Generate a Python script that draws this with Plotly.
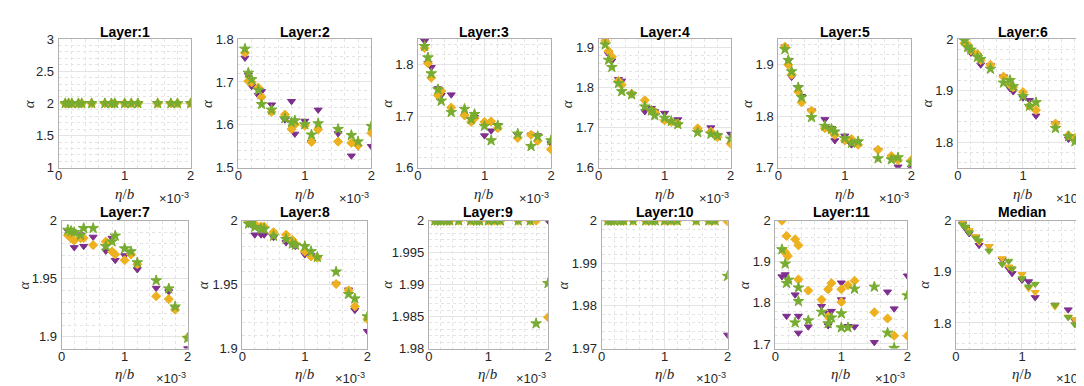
import plotly.graph_objects as go

# ---------------- data ----------------
ETA = [0.10e-3, 0.15e-3, 0.20e-3, 0.30e-3, 0.35e-3, 0.50e-3, 0.70e-3, 0.80e-3,
       0.85e-3, 1.00e-3, 1.10e-3, 1.20e-3, 1.50e-3, 1.70e-3, 1.80e-3, 2.00e-3]

TITLES = ["Layer:1", "Layer:2", "Layer:3", "Layer:4", "Layer:5", "Layer:6",
          "Layer:7", "Layer:8", "Layer:9", "Layer:10", "Layer:11", "Median"]

X_TICKS = [0, 1e-3, 2e-3]
X_TICK_TEXT = ["0", "1", "2"]

L1_P = [2.0, 2.0, 2.0, 2.0, 2.0, 2.0, 2.0, 2.0, 2.0, 2.0, 2.0, 2.0, 2.0, 2.0, 2.0, 2.0]
L1_O = [2.0, 2.0, 2.0, 2.0, 2.0, 2.0, 2.0, 2.0, 2.0, 2.0, 2.0, 2.0, 2.0, 2.0, 2.0, 2.0]
L1_G = [2.0, 2.0, 2.0, 2.0, 2.0, 2.0, 2.0, 2.0, 2.0, 2.0, 2.0, 2.0, 2.0, 2.0, 2.0, 2.0]

L2_P = [1.756, 1.716, 1.690, 1.669, 1.678, 1.647, 1.612, 1.655, 1.579, 1.609, 1.560, 1.635, 1.580, 1.528, 1.549, 1.550]
L2_O = [1.768, 1.702, 1.699, 1.687, 1.665, 1.630, 1.624, 1.590, 1.601, 1.598, 1.560, 1.589, 1.561, 1.558, 1.552, 1.581]
L2_G = [1.777, 1.721, 1.706, 1.681, 1.648, 1.635, 1.615, 1.606, 1.610, 1.601, 1.577, 1.603, 1.590, 1.576, 1.561, 1.597]

L3_P = [1.846, 1.803, 1.795, 1.754, 1.741, 1.742, 1.700, 1.694, 1.698, 1.6625, 1.672, 1.6825, 1.664, 1.664, 1.6625, 1.647]
L3_O = [1.8325, 1.803, 1.775, 1.741, 1.749, 1.717, 1.702, 1.689, 1.696, 1.689, 1.690, 1.677, 1.658, 1.664, 1.652, 1.636]
L3_G = [1.836, 1.814, 1.783, 1.752, 1.730, 1.708, 1.714, 1.694, 1.704, 1.681, 1.653, 1.682, 1.666, 1.642, 1.661, 1.653]

L4_P = [1.918, 1.882, 1.866, 1.820, 1.816, 1.784, 1.740, 1.748, 1.740, 1.736, 1.716, 1.720, 1.694, 1.700, 1.680, 1.684]
L4_O = [1.915, 1.890, 1.876, 1.816, 1.806, 1.784, 1.768, 1.742, 1.738, 1.718, 1.714, 1.710, 1.698, 1.690, 1.676, 1.660]
L4_G = [1.906, 1.868, 1.850, 1.810, 1.790, 1.782, 1.752, 1.742, 1.730, 1.724, 1.716, 1.708, 1.688, 1.684, 1.680, 1.672]

L5_P = [1.935, 1.908, 1.876, 1.856, 1.839, 1.811, 1.794, 1.777, 1.753, 1.762, 1.745, 1.750, 1.734, 1.721, 1.702, 1.700]
L5_O = [1.935, 1.900, 1.881, 1.848, 1.827, 1.811, 1.777, 1.772, 1.764, 1.753, 1.756, 1.745, 1.735, 1.723, 1.715, 1.715]
L5_G = [1.930, 1.909, 1.887, 1.856, 1.837, 1.798, 1.781, 1.775, 1.770, 1.757, 1.748, 1.751, 1.718, 1.716, 1.720, 1.710]

L6_P = [2.000, 1.982, 1.973, 1.968, 1.950, 1.949, 1.927, 1.904, 1.898, 1.886, 1.881, 1.851, 1.836, 1.806, 1.808, 1.780]
L6_O = [1.992, 1.989, 1.978, 1.971, 1.959, 1.950, 1.927, 1.911, 1.906, 1.897, 1.870, 1.862, 1.836, 1.813, 1.808, 1.785]
L6_G = [1.997, 1.984, 1.979, 1.965, 1.961, 1.942, 1.915, 1.920, 1.908, 1.889, 1.870, 1.877, 1.827, 1.811, 1.801, 1.782]

L7_P = [1.991, 1.989, 1.977, 1.988, 1.978, 1.986, 1.974, 1.985, 1.966, 1.970, 1.970, 1.958, 1.942, 1.939, 1.925, 1.890]
L7_O = [1.9875, 1.985, 1.983, 1.985, 1.985, 1.979, 1.982, 1.9735, 1.971, 1.966, 1.971, 1.9625, 1.935, 1.9325, 1.9235, 1.8995]
L7_G = [1.992, 1.991, 1.990, 1.9875, 1.9935, 1.9935, 1.978, 1.982, 1.987, 1.976, 1.9735, 1.964, 1.9485, 1.9415, 1.926, 1.899]

L8_P = [1.9975, 1.999, 1.989, 1.989, 1.989, 1.987, 1.983, 1.9815, 1.980, 1.9735, 1.973, 1.971, 1.9505, 1.946, 1.930, 1.9135]
L8_O = [2.000, 2.000, 1.9975, 1.9955, 1.9955, 1.991, 1.989, 1.985, 1.982, 1.976, 1.972, 1.971, 1.9505, 1.9455, 1.933, 1.923]
L8_G = [1.9975, 1.999, 1.995, 1.9935, 1.9935, 1.988, 1.9855, 1.982, 1.981, 1.980, 1.976, 1.9715, 1.960, 1.9425, 1.939, 1.925]

L9_P = [2.0, 2.0, 2.0, 2.0, 2.0, 2.0, 2.0, 2.0, 2.0, 2.0, 2.0, 2.0, 2.0, 2.0, 2.0, 2.0]
L9_O = [2.0, 2.0, 2.0, 2.0, 2.0, 2.0, 2.0, 2.0, 2.0, 2.0, 2.0, 2.0, 2.0, 2.0, 2.0, 1.9849]
L9_G = [2.0, 2.0, 2.0, 2.0, 2.0, 2.0, 2.0, 2.0, 2.0, 2.0, 2.0, 2.0, 2.0, 2.0, 1.9839, 1.9902]

L10_P = [2.0, 2.0, 2.0, 2.0, 2.0, 2.0, 2.0, 2.0, 2.0, 2.0, 2.0, 2.0, 2.0, 2.0, 2.0, 1.9732]
L10_O = [2.0, 2.0, 2.0, 2.0, 2.0, 2.0, 2.0, 2.0, 2.0, 2.0, 2.0, 2.0, 2.0, 2.0, 2.0, 1.9998]
L10_G = [2.0, 2.0, 2.0, 2.0, 2.0, 2.0, 2.0, 2.0, 2.0, 2.0, 2.0, 2.0, 2.0, 2.0, 2.0, 1.9870]

# Layer 11 has scattered repeats, so each series keeps its own eta list
L11_P_X = [0.10e-3, 0.15e-3, 0.17e-3, 0.30e-3, 0.35e-3, 0.35e-3, 0.50e-3, 0.70e-3, 0.80e-3, 0.80e-3,
           0.85e-3, 1.00e-3, 1.00e-3, 1.10e-3, 1.20e-3, 1.50e-3, 1.70e-3, 1.80e-3, 2.00e-3]
L11_P = [1.864, 1.869, 1.768, 1.820, 1.727, 1.768, 1.742, 1.792, 1.745, 1.775,
         1.780, 1.849, 1.808, 1.743, 1.742, 1.704, 1.827, 1.786, 1.866]
L11_O_X = [0.10e-3, 0.14e-3, 0.17e-3, 0.16e-3, 0.19e-3, 0.30e-3, 0.35e-3, 0.35e-3, 0.50e-3, 0.70e-3,
           0.80e-3, 0.80e-3, 0.85e-3, 1.00e-3, 1.00e-3, 1.10e-3, 1.20e-3, 1.50e-3, 1.70e-3, 1.80e-3, 2.00e-3]
L11_O = [2.000, 1.925, 1.963, 1.920, 1.914, 1.955, 1.940, 1.857, 1.830, 1.808,
         1.833, 1.767, 1.848, 1.833, 1.802, 1.843, 1.854, 1.777, 1.762, 1.720, 1.720]
L11_G_X = [0.10e-3, 0.15e-3, 0.17e-3, 0.20e-3, 0.30e-3, 0.35e-3, 0.35e-3, 0.50e-3, 0.70e-3, 0.80e-3,
           0.85e-3, 1.00e-3, 1.00e-3, 1.10e-3, 1.20e-3, 1.50e-3, 1.70e-3, 1.80e-3, 2.00e-3]
L11_G = [1.930, 1.895, 1.848, 1.856, 1.752, 1.837, 1.804, 1.757, 1.778, 1.750,
         1.764, 1.774, 1.740, 1.740, 1.834, 1.839, 1.727, 1.690, 1.818]

MED_P = [1.994, 1.984, 1.975, 1.968, 1.952, 1.950, 1.924, 1.906, 1.897, 1.884, 1.881, 1.850, 1.835, 1.826, 1.805, 1.866]
MED_O = [1.997, 1.987, 1.981, 1.969, 1.958, 1.950, 1.926, 1.910, 1.906, 1.895, 1.868, 1.860, 1.832, 1.812, 1.807, 1.780]
MED_G = [1.992, 1.988, 1.977, 1.966, 1.961, 1.941, 1.915, 1.921, 1.906, 1.887, 1.871, 1.876, 1.835, 1.811, 1.797, 1.815]

Y_RANGES = [[1, 3], [1.5, 1.8], [1.6, 1.85], [1.6, 1.92], [1.7, 1.95], [1.75, 2.0],
            [1.89, 2.0], [1.9, 2.0], [1.98, 2.0], [1.97, 2.0], [1.689, 2.0], [1.75, 2.0]]
Y_TICKS = [[1, 1.5, 2, 2.5, 3], [1.5, 1.6, 1.7, 1.8], [1.6, 1.7, 1.8], [1.6, 1.7, 1.8, 1.9],
           [1.7, 1.8, 1.9], [1.8, 1.9, 2], [1.9, 1.95, 2], [1.9, 1.95, 2],
           [1.98, 1.985, 1.99, 1.995, 2], [1.97, 1.98, 1.99, 2], [1.7, 1.8, 1.9, 2], [1.8, 1.9, 2]]

# ---------------- layout geometry (pixels) ----------------
W, H = 1084, 386
COLS_TOP = [(47, 180), (228, 362), (409, 543), (591, 724), (772, 906), (953, 1084)]
COLS_BOT = [(50, 177), (232, 358), (420, 540), (594, 721), (769, 902), (951, 1084)]
ROW_TOP = (25, 159)
ROW_BOT = (214, 347)
ALPHA_OFF = [29, 31, 31, 31, 31, 31, 38, 40, 43, 39, 32, 33]

PURPLE = "#7E2F8E"
ORANGE = "#EDB120"
GREEN = "#77AC30"

series = [
    (L1_P, L1_O, L1_G), (L2_P, L2_O, L2_G), (L3_P, L3_O, L3_G),
    (L4_P, L4_O, L4_G), (L5_P, L5_O, L5_G), (L6_P, L6_O, L6_G),
    (L7_P, L7_O, L7_G), (L8_P, L8_O, L8_G), (L9_P, L9_O, L9_G),
    (L10_P, L10_O, L10_G), (L11_P, L11_O, L11_G), (MED_P, MED_O, MED_G),
]

fig = go.Figure()
annotations = []
layout = {}


def fx(px):
    return px / W


def fy(py):
    return 1 - py / H


TICKFONT = dict(family="Liberation Sans, Arial, sans-serif", size=13, color="#262626")
MATHFONT = dict(family="Liberation Serif, Times New Roman, serif", size=15, color="#262626")

for i in range(12):
    k = i + 1
    xa = "x" if k == 1 else f"x{k}"
    ya = "y" if k == 1 else f"y{k}"
    xname = "xaxis" if k == 1 else f"xaxis{k}"
    yname = "yaxis" if k == 1 else f"yaxis{k}"
    top_row = i < 6
    c0, c1 = (COLS_TOP if top_row else COLS_BOT)[i % 6]
    r0, r1 = ROW_TOP if top_row else ROW_BOT

    if i == 10:
        xs = (L11_P_X, L11_O_X, L11_G_X)
    else:
        xs = (ETA, ETA, ETA)
    ys = series[i]
    median = i == 11
    syms = ("triangle-down", "triangle-down", "triangle-down") if median else ("triangle-down", "diamond", "star")
    sizes = (7, 7, 7) if median else (7, 7, 8)
    for (xv, yv, col, sym, sz) in zip(xs, ys, (PURPLE, ORANGE, GREEN), syms, sizes):
        fig.add_trace(go.Scatter(
            x=xv, y=yv, mode="markers", xaxis=xa, yaxis=ya, showlegend=False,
            marker=dict(symbol=sym, size=sz, color=col, line=dict(color=col, width=1)),
            hoverinfo="skip",
        ))

    yt = Y_TICKS[i]
    ymaj = yt[1] - yt[0]
    ymin_step = ymaj / 5
    yr = Y_RANGES[i]
    n0 = int(round((yt[0] - ymaj) / ymin_step))
    minor_y = [round(n * ymin_step, 6) for n in range(n0, n0 + 40)]
    minor_y = [v for v in minor_y if yr[0] - 1e-9 <= v <= yr[1] + 1e-9]

    common = dict(
        showline=True, linecolor="#b0b0b0", linewidth=1, mirror=True,
        showgrid=True, gridcolor="#e4e4e4", gridwidth=1,
        zeroline=False, ticks="", tickfont=TICKFONT, fixedrange=True,
    )
    layout[xname] = dict(
        common, domain=[fx(c0), fx(c1)], range=[0, 2e-3], anchor=ya,
        tickmode="array", tickvals=X_TICKS, ticktext=X_TICK_TEXT,
        ticklabelstandoff=-4,
        minor=dict(tickmode="array", tickvals=[j * 0.2e-3 for j in range(11)],
                   showgrid=True, gridcolor="#e4e4e4", griddash="dot", ticks=""),
    )
    layout[yname] = dict(
        common, domain=[fy(r1), fy(r0)], range=yr, anchor=xa,
        tickmode="array", tickvals=yt, ticktext=[f"{v:g}" for v in yt],
        ticklabelstandoff=1,
        minor=dict(tickmode="array", tickvals=minor_y,
                   showgrid=True, gridcolor="#e4e4e4", griddash="dot", ticks=""),
    )

    cx = (c0 + c1) / 2
    # title
    annotations.append(dict(
        text=f"<b>{TITLES[i]}</b>", x=fx(cx), y=fy(17.5 if top_row else 205),
        xref="paper", yref="paper", xanchor="center", yanchor="middle", showarrow=False,
        font=dict(family="Liberation Sans, Arial, sans-serif", size=14, color="#000000"),
    ))
    # y label
    annotations.append(dict(
        text="<i>α</i>", x=fx(c0 - ALPHA_OFF[i]), y=fy((r0 + r1) / 2),
        xref="paper", yref="paper", xanchor="center", yanchor="middle", showarrow=False,
        textangle=-90, font=MATHFONT,
    ))
    # x label
    annotations.append(dict(
        text="<i>η</i>/<i>b</i>", x=fx(cx), y=fy(r1 + 27),
        xref="paper", yref="paper", xanchor="center", yanchor="middle", showarrow=False,
        font=MATHFONT,
    ))
    # exponent
    annotations.append(dict(
        text="×10<sup>-3</sup>", x=fx(c1), y=fy(r1 + 31),
        xref="paper", yref="paper", xanchor="right", yanchor="middle", showarrow=False,
        font=dict(family="Liberation Sans, Arial, sans-serif", size=13, color="#262626"),
    ))

fig.update_layout(
    width=W, height=H, margin=dict(l=0, r=0, t=0, b=0),
    paper_bgcolor="white", plot_bgcolor="white",
    annotations=annotations, **layout,
)

fig.write_html("out.html", config={"displayModeBar": False})
